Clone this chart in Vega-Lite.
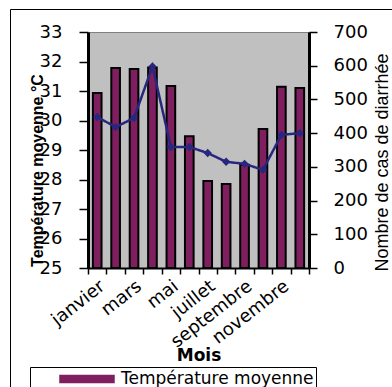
{
  "$schema": "https://vega.github.io/schema/vega-lite/v6.json",
  "width": 221,
  "height": 236,
  "autosize": {"type": "none"},
  "padding": {"left": 88, "top": 32, "right": 83, "bottom": 119},
  "background": "white",
  "config": {
    "view": {"fill": "#C0C0C0", "stroke": "#808080", "strokeWidth": 1},
    "font": "DejaVu Sans"
  },
  "data": {
    "values": [
      {"mois": "janvier", "temperature": 30.93, "cas": 448},
      {"mois": "février", "temperature": 31.78, "cas": 418},
      {"mois": "mars", "temperature": 31.75, "cas": 445},
      {"mois": "avril", "temperature": 31.8, "cas": 598},
      {"mois": "mai", "temperature": 31.17, "cas": 359},
      {"mois": "juin", "temperature": 29.47, "cas": 359},
      {"mois": "juillet", "temperature": 27.95, "cas": 341},
      {"mois": "août", "temperature": 27.85, "cas": 315},
      {"mois": "septembre", "temperature": 28.5, "cas": 309},
      {"mois": "octobre", "temperature": 29.71, "cas": 291},
      {"mois": "novembre", "temperature": 31.14, "cas": 395},
      {"mois": "décembre", "temperature": 31.1, "cas": 400}
    ]
  },
  "encoding": {
    "x": {
      "field": "mois",
      "type": "nominal",
      "sort": null,
      "scale": {"paddingInner": 0, "paddingOuter": 0},
      "axis": {
        "title": "Mois",
        "titleFont": "DejaVu Sans",
        "titleFontSize": 17,
        "titleFontWeight": "bold",
        "titleColor": "black",
        "titleY": 87,
        "titleBaseline": "middle",
        "labelAngle": -38,
        "labelAlign": "right",
        "labelBaseline": "middle",
        "labelFontSize": 18,
        "labelColor": "black",
        "labelPadding": 10,
        "labelOffset": 5,
        "labelOverlap": false,
        "labelExpr": "indexof(['janvier','mars','mai','juillet','septembre','novembre'], datum.value) >= 0 ? datum.label : ''",
        "tickBand": "extent",
        "tickSize": 6,
        "tickColor": "black",
        "tickWidth": 1.5,
        "domainColor": "black",
        "domainWidth": 2
      }
    }
  },
  "layer": [
    {
      "mark": {"type": "bar", "width": {"band": 0.47}, "stroke": "black", "strokeWidth": 2},
      "encoding": {
        "y": {
          "field": "temperature",
          "type": "quantitative",
          "scale": {"domain": [25, 33], "nice": false, "zero": false},
          "axis": {
            "title": "Température moyenne °C",
            "titleFont": "Liberation Sans",
            "titleFontSize": 16,
            "titleFontWeight": "bold",
            "titleColor": "black",
            "titleAngle": -90,
            "titleX": -51,
            "titleY": 138,
            "titleAlign": "center",
            "titleBaseline": "middle",
            "values": [25, 26, 27, 28, 29, 30, 31, 32, 33],
            "labelFontSize": 18,
            "labelColor": "black",
            "labelPadding": 17,
            "tickSize": 9,
            "tickColor": "black",
            "tickWidth": 1.5,
            "domainColor": "black",
            "domainWidth": 3,
            "grid": false
          }
        },
        "y2": {"datum": 25},
        "color": {
          "datum": "Température moyenne",
          "type": "nominal",
          "scale": {
            "domain": ["Température moyenne", "Nombre de cas de diarrhée"],
            "range": ["#7F1F60", "#27277F"]
          },
          "legend": {
            "orient": "none",
            "legendX": -58,
            "legendY": 335,
            "title": null,
            "values": ["Température moyenne"],
            "direction": "vertical",
            "strokeColor": "black",
            "fillColor": "white",
            "padding": 2,
            "symbolType": "M-3,-0.4H3V0.4H-3Z",
            "symbolSize": 324,
            "symbolStrokeWidth": 1.5,
            "symbolOffset": 45,
            "labelFont": "DejaVu Sans",
            "labelFontSize": 17,
            "labelColor": "black",
            "labelOffset": 24,
            "labelLimit": 400,
            "symbolFillColor": "#7F1F60",
            "symbolStrokeColor": "black",
            "encode": {
              "symbols": {"update": {"stroke": {"value": "black"}, "strokeWidth": {"value": 1.5}}}
            }
          }
        }
      }
    },
    {
      "mark": {"type": "line", "strokeWidth": 2.5, "point": {"shape": "diamond", "size": 70, "filled": true}},
      "encoding": {
        "y": {
          "field": "cas",
          "type": "quantitative",
          "scale": {"domain": [0, 700], "nice": false},
          "axis": {
            "orient": "right",
            "title": "Nombre de cas de diarrhée",
            "titleFont": "Liberation Sans",
            "titleFontSize": 18,
            "titleFontWeight": "normal",
            "titleColor": "black",
            "titleAngle": -90,
            "titleX": 73,
            "titleY": 130,
            "titleAlign": "center",
            "titleBaseline": "middle",
            "values": [0, 100, 200, 300, 400, 500, 600, 700],
            "labelFontSize": 18,
            "labelColor": "black",
            "labelPadding": 16,
            "tickSize": 8,
            "tickColor": "black",
            "tickWidth": 1.5,
            "domainColor": "black",
            "domainWidth": 3,
            "grid": false
          }
        },
        "color": {"datum": "Nombre de cas de diarrhée", "type": "nominal"},
        "strokeDash": {
          "datum": "cadre",
          "type": "nominal",
          "scale": {"range": [[1, 0]]},
          "legend": {
            "orient": "none",
            "legendX": -78,
            "legendY": -23,
            "title": null,
            "padding": 200,
            "strokeColor": "black",
            "symbolOpacity": 0,
            "symbolSize": 1,
            "labelExpr": "''"
          }
        }
      }
    }
  ],
  "resolve": {"scale": {"y": "independent"}}
}
